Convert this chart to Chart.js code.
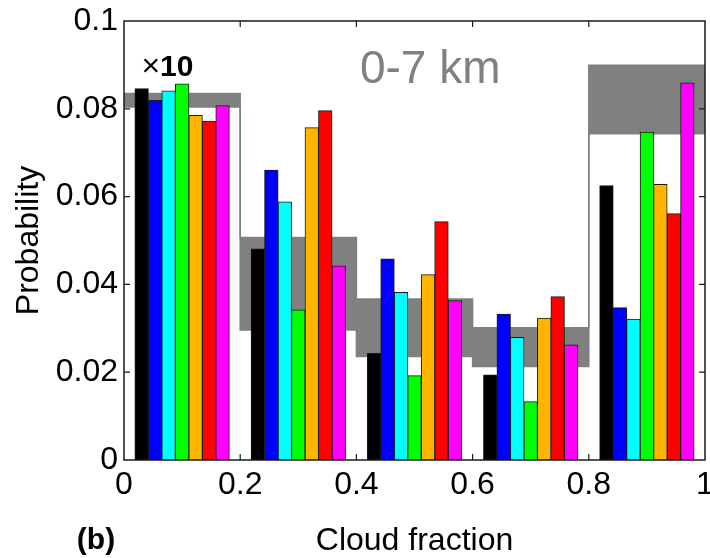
<!DOCTYPE html>
<html><head><meta charset="utf-8">
<script src="https://cdn.jsdelivr.net/npm/chart.js@4.4.1/dist/chart.umd.min.js"></script>
<style>html,body{margin:0;padding:0;background:#fff}canvas{display:block}</style>
</head><body>
<canvas id="c" width="710" height="558"></canvas>
<script>
// ---- data ----
const binEdges = [0, 0.2, 0.4, 0.6, 0.8, 1];
const xTicks = [0, 0.2, 0.4, 0.6, 0.8, 1];
const yTicks = [0, 0.02, 0.04, 0.06, 0.08, 0.1];

const seriesBlack   = [0.0846, 0.0481, 0.0243, 0.0194, 0.0625];
const seriesBlue    = [0.0819, 0.0660, 0.0458, 0.0332, 0.0347];
const seriesCyan    = [0.0841, 0.0588, 0.0382, 0.0279, 0.0321];
const seriesGreen   = [0.0857, 0.0342, 0.0192, 0.0133, 0.0747];
const seriesOrange  = [0.0785, 0.0757, 0.0422, 0.0323, 0.0628];
const seriesRed     = [0.0772, 0.0796, 0.0543, 0.0372, 0.0561];
const seriesMagenta = [0.0807, 0.0442, 0.0363, 0.0262, 0.0859];

const bandUpper = [0.0835, 0.0507, 0.0367, 0.0301, 0.0899];
const bandLower = [0.0804, 0.0296, 0.0236, 0.0213, 0.0743];

const titleText = '0-7 km';
const scaleNote = '10';
const panelLabel = '(b)';
const xTitle = 'Cloud fraction';
const yTitle = 'Probability';

// ---- styles ----
const FONT = "'Liberation Sans', Arial, Helvetica, sans-serif";
const GRAY = '#808080';
const seriesDefs = [
  ['Black', seriesBlack, '#000000'],
  ['Blue', seriesBlue, '#0000ff'],
  ['Cyan', seriesCyan, '#00ffff'],
  ['Green', seriesGreen, '#00ff00'],
  ['Orange', seriesOrange, '#ffb400'],
  ['Red', seriesRed, '#ff0000'],
  ['Magenta', seriesMagenta, '#ff00ff']
];

const binCenters = binEdges.slice(0, -1).map((e, i) => (e + binEdges[i + 1]) / 2);

function stepData(vals) {
  return binEdges.map((e, i) => ({ x: e, y: vals[Math.min(i, vals.length - 1)] }));
}

const barSets = seriesDefs.map(([name, vals, col]) => ({
  type: 'bar', label: name,
  data: vals.map((v, i) => ({ x: binCenters[i], y: v })),
  backgroundColor: col, borderColor: '#1a1a1a', borderWidth: 1, inflateAmount: 0.4,
  categoryPercentage: 0.8125, barPercentage: 1, order: 1
}));

const bandSets = [
  { type: 'line', label: 'range max', data: stepData(bandUpper),
    stepped: true, borderColor: GRAY, borderWidth: 1.5, pointRadius: 0,
    backgroundColor: GRAY, fill: '+1', order: 10 },
  { type: 'line', label: 'range min', data: stepData(bandLower),
    stepped: true, borderColor: GRAY, borderWidth: 1.5, pointRadius: 0,
    fill: false, order: 10 }
];

const frame = {
  id: 'frame',
  afterDraw(chart) {
    const { ctx, chartArea: a, scales } = chart;
    ctx.save();
    ctx.strokeStyle = '#1a1a1a';
    ctx.lineWidth = 1.5;
    ctx.strokeRect(a.left, a.top, a.right - a.left, a.bottom - a.top);
    ctx.lineWidth = 1.2;
    const tl = 6;
    ctx.beginPath();
    xTicks.slice(1, -1).forEach(v => {
      const px = scales.x.getPixelForValue(v);
      ctx.moveTo(px, a.bottom); ctx.lineTo(px, a.bottom - tl);
      ctx.moveTo(px, a.top); ctx.lineTo(px, a.top + tl);
    });
    yTicks.slice(1, -1).forEach(v => {
      const py = scales.y.getPixelForValue(v);
      ctx.moveTo(a.left, py); ctx.lineTo(a.left + tl, py);
      ctx.moveTo(a.right, py); ctx.lineTo(a.right - tl, py);
    });
    ctx.stroke();

    // annotations
    ctx.fillStyle = GRAY;
    ctx.font = '46px ' + FONT;
    ctx.textAlign = 'center';
    ctx.textBaseline = 'alphabetic';
    ctx.fillText(titleText, scales.x.getPixelForValue(0.527), scales.y.getPixelForValue(0.0859));

    ctx.fillStyle = '#000';
    ctx.textAlign = 'left';
    ctx.font = '32px ' + FONT;
    const xm = scales.x.getPixelForValue(0.03);
    const ym = scales.y.getPixelForValue(0.0875);
    ctx.fillText('\u00d7', xm, ym);
    const w = ctx.measureText('\u00d7').width;
    ctx.font = 'bold 30px ' + FONT;
    ctx.fillText(scaleNote, xm + w, ym);

    ctx.textAlign = 'center';
    ctx.textBaseline = 'middle';
    ctx.font = 'bold 30px ' + FONT;
    ctx.fillText(panelLabel, 96, 541);
    ctx.restore();
  }
};

new Chart(document.getElementById('c'), {
  type: 'bar',
  data: { datasets: [...barSets, ...bandSets] },
  options: {
    responsive: false, animation: false, devicePixelRatio: 1,
    layout: { padding: { left: 0, right: 5, top: 21, bottom: 0 } },
    plugins: { legend: { display: false }, tooltip: { enabled: false } },
    scales: {
      x: {
        type: 'linear', position: 'bottom', min: 0, max: 1, offset: false,
        afterBuildTicks: s => { s.ticks = xTicks.map(v => ({ value: v })); },
        ticks: { color: '#000', font: { family: FONT, size: 32 }, padding: 6, maxRotation: 0,
                 callback: v => String(v) },
        grid: { display: false, drawTicks: false, offset: false }, border: { display: false },
        title: { display: true, text: xTitle, color: '#000', font: { family: FONT, size: 32 },
                 padding: { top: 0, bottom: -2 } },
        afterFit: s => { s.height = 98; s.paddingLeft = 0; s.paddingRight = 0; }
      },
      y: {
        type: 'linear', position: 'left', min: 0, max: 0.1,
        afterBuildTicks: s => { s.ticks = yTicks.map(v => ({ value: v })); },
        ticks: { color: '#000', font: { family: FONT, size: 32 }, padding: 6,
                 callback: v => String(v) },
        grid: { display: false, drawTicks: false }, border: { display: false },
        title: { display: true, text: yTitle, color: '#000', font: { family: FONT, size: 32 },
                 padding: { top: 10, bottom: 0 } },
        afterFit: s => { s.width = 124; s.paddingTop = 0; s.paddingBottom = 0; }
      }
    }
  },
  plugins: [frame]
});
</script>
</body></html>
